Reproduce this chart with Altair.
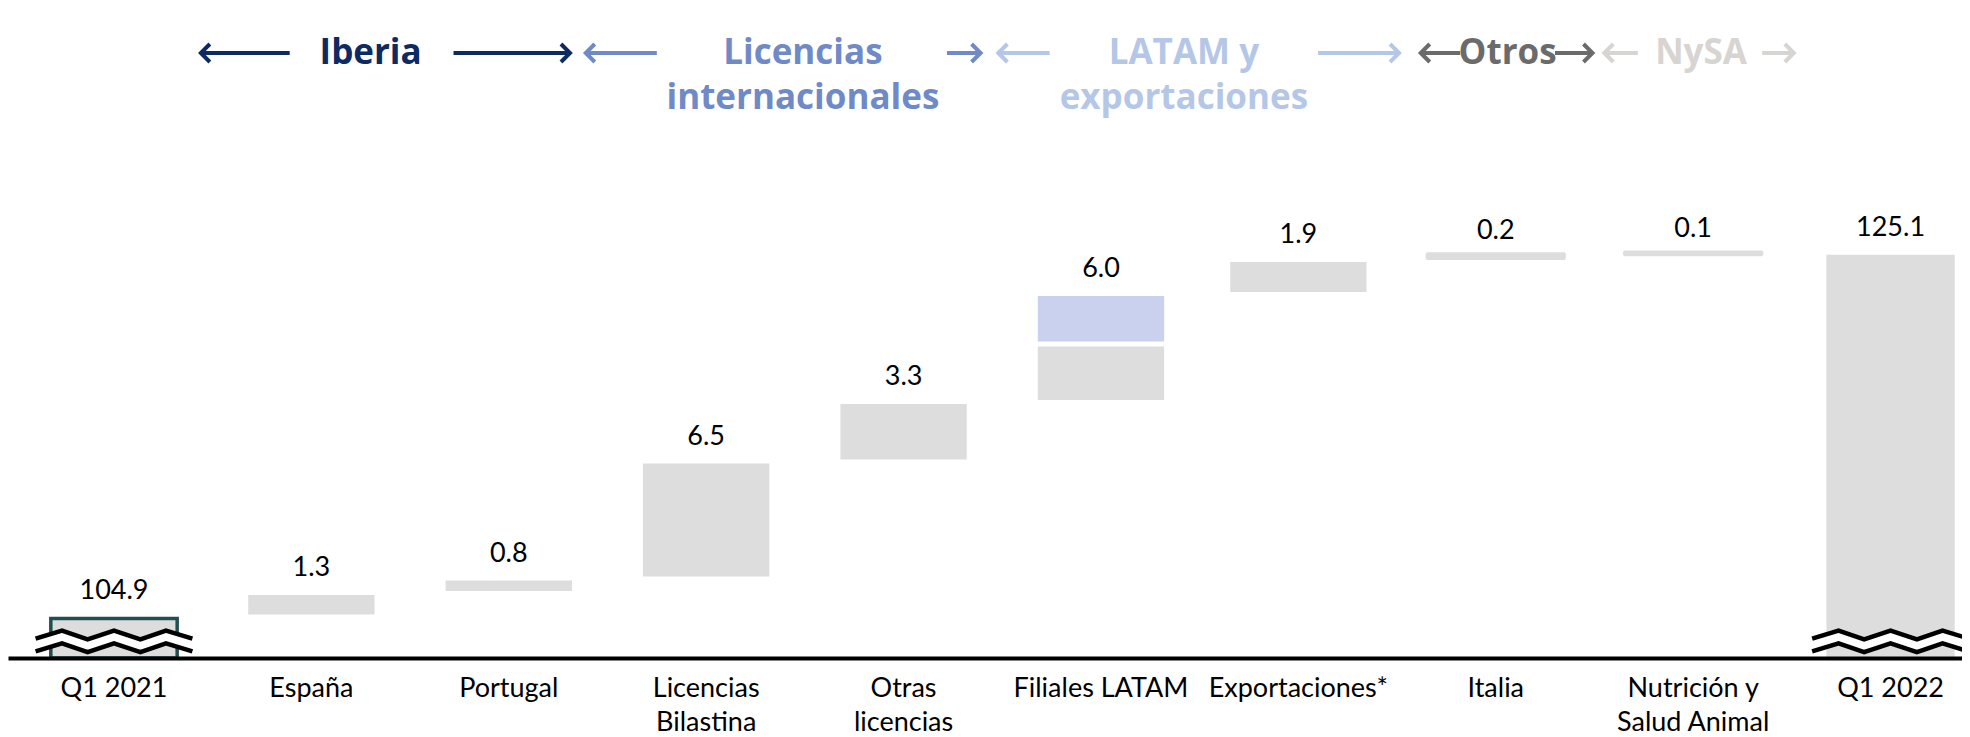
import altair as alt
import pandas as pd

# ---------------- data ----------------
categories = ["Q1 2021", "España", "Portugal", "Licencias\nBilastina", "Otras\nlicencias",
              "Filiales LATAM", "Exportaciones*", "Italia", "Nutrición y\nSalud Animal", "Q1 2022"]
values = [104.9, 1.3, 0.8, 6.5, 3.3, 6.0, 1.9, 0.2, 0.1, 125.1]
kinds = ["total", "delta", "delta", "delta", "delta", "delta", "delta", "delta", "delta", "total"]
filiales_split = [3.2, 2.8]          # grey part, highlighted (blue) part of Filiales LATAM
axis_floor = 102.7                   # value at the broken baseline
axis_ceiling = 138.8
break_value = 103.6                  # where the axis-break zigzag sits

group_labels = ["Iberia", "Licencias\ninternacionales", "LATAM y\nexportaciones", "Otros", "NySA"]
group_colors = ["#0d2a62", "#6f8ac7", "#b4c7e7", "#6b6b6b", "#d7d4d1"]
group_label_x = [1.30, 3.49, 5.42, 7.06, 8.04]
group_left_arrow = [(0.44, 0.89), (2.39, 2.75), (4.48, 4.74), (6.62, 6.82), (7.55, 7.72)]
group_right_arrow = [(1.72, 2.31), (4.22, 4.39), (6.10, 6.51), (7.30, 7.49), (8.35, 8.51)]

# style: half bar width per category (in category units)
bar_half = [0.32, 0.32, 0.32, 0.32, 0.32, 0.32, 0.345, 0.345, 0.345, 0.325]

# ---------------- tables ----------------
rows = []
labels = []
running = None
for i, (cat, v, k) in enumerate(zip(categories, values, kinds)):
    h = bar_half[i]
    if k == "total":
        rows.append(dict(x0=i - h, x1=i + h, base=axis_floor, top=v, cls="total",
                         stroke="#214f50" if i == 0 else "#dddddd", sw=3.5 if i == 0 else 0))
        running = v
        labels.append(dict(x=i, top=v, txt=f"{v:.1f}"))
    else:
        if cat == "Filiales LATAM":
            mid = running + filiales_split[0]
            rows.append(dict(x0=i - h, x1=i + h, base=running, top=mid, cls="big"))
            rows.append(dict(x0=i - h, x1=i + h, base=mid, top=mid + filiales_split[1], cls="blue"))
        else:
            rows.append(dict(x0=i - h, x1=i + h, base=running, top=running + v,
                             cls="small" if v < 0.5 else "big"))
        running = running + v
        labels.append(dict(x=i, top=running, txt=f"{v:.1f}"))

bars = pd.DataFrame(rows)
lab_df = pd.DataFrame(labels)
cat_df = pd.DataFrame(dict(x=list(range(len(categories))), label=categories))
hdr_df = pd.DataFrame(dict(x=group_label_x, label=group_labels, color=group_colors))
left_df = pd.DataFrame(dict(x=[a for a, b in group_left_arrow], x2=[b for a, b in group_left_arrow], color=group_colors))
right_df = pd.DataFrame(dict(x=[a for a, b in group_right_arrow], x2=[b for a, b in group_right_arrow], color=group_colors))
brk_df = pd.DataFrame(dict(x=[0, len(categories) - 1], y=[break_value, break_value]))

# ---------------- scales ----------------
xscale = alt.Scale(domain=[-0.537, 9.362], nice=False, zero=False)
yscale = alt.Scale(domain=[axis_floor, axis_ceiling], nice=False, zero=False)
xaxis = alt.Axis(title=None, labels=False, ticks=False, grid=False, domain=True,
                 domainColor="black", domainWidth=4, zindex=1)

def X(f):
    return alt.X(f, scale=xscale, axis=xaxis)

def Y(f):
    return alt.Y(f, scale=yscale, axis=None)

base = alt.Chart(bars)

big = base.transform_filter("datum.cls == 'big'").mark_rect(color="#dddddd", y2Offset=-4).encode(
    x=X("x0:Q"), x2="x1:Q", y=Y("top:Q"), y2="base:Q")
blue = base.transform_filter("datum.cls == 'blue'").mark_rect(color="#c9d1ee", y2Offset=-5).encode(
    x=X("x0:Q"), x2="x1:Q", y=Y("top:Q"), y2="base:Q")
small = base.transform_filter("datum.cls == 'small'").mark_rect(
    color="#dddddd", stroke="#dddddd", strokeWidth=4, strokeJoin="round", yOffset=-4, y2Offset=-4).encode(
    x=X("x0:Q"), x2="x1:Q", y=Y("top:Q"), y2="base:Q")
totals = base.transform_filter("datum.cls == 'total'").mark_rect(color="#dddddd").encode(
    x=X("x0:Q"), x2="x1:Q", y=Y("top:Q"), y2="base:Q",
    stroke=alt.Stroke("stroke:N", scale=None), strokeWidth=alt.StrokeWidth("sw:Q", scale=None))

# axis-break zigzags
zx = [-0.98, -0.65, -0.33, 0.0, 0.33, 0.65, 0.98]
zu = [-0.04, -0.14, -0.03, -0.14, -0.03, -0.14, -0.04]
zl = [v + 0.16 for v in zu]
upper = " ".join(f"{'M' if j == 0 else 'L'}{a},{b}" for j, (a, b) in enumerate(zip(zx, zu)))
lower = " ".join(f"{'M' if j == 0 else 'L'}{a},{b}" for j, (a, b) in enumerate(zip(zx, zl)))
lower_rev = " ".join(f"L{a},{b}" for a, b in zip(reversed(zx), reversed(zl)))
fill_path = upper + " " + lower_rev + " Z"
line_path = upper + " " + lower
BRK_SIZE = 160 * 160

brk_fill = alt.Chart(brk_df).mark_point(shape=fill_path, size=BRK_SIZE, filled=True, color="white",
                                        opacity=1, strokeWidth=0).encode(x=X("x:Q"), y=Y("y:Q"))
brk_line = alt.Chart(brk_df).mark_point(shape=line_path, size=BRK_SIZE, filled=False, color="black",
                                        opacity=1, strokeWidth=4.5).encode(x=X("x:Q"), y=Y("y:Q"))

# value labels
val_text = alt.Chart(lab_df).mark_text(font="Lato", fontSize=27, baseline="middle", dy=-27,
                                       color="black").encode(x=X("x:Q"), y=Y("top:Q"), text="txt:N")

# category labels
cat_text = alt.Chart(cat_df).mark_text(font="Lato", fontSize=27, baseline="alphabetic", align="center",
                                       lineBreak="\n", lineHeight=34, color="black").encode(
    x=X("x:Q"), y=alt.value(689), text="label:N")

# group headers
HY = 45
hdr_text = alt.Chart(hdr_df).mark_text(font="Open Sans", fontSize=35, fontWeight="bold", baseline="middle",
                                       align="center", lineBreak="\n", lineHeight=45).encode(
    x=X("x:Q"), y=alt.value(HY), text="label:N", color=alt.Color("color:N", scale=None))
left_rule = alt.Chart(left_df).mark_rule(strokeWidth=4).encode(
    x=X("x:Q"), x2="x2:Q", y=alt.value(HY), color=alt.Color("color:N", scale=None))
right_rule = alt.Chart(right_df).mark_rule(strokeWidth=4).encode(
    x=X("x:Q"), x2="x2:Q", y=alt.value(HY), color=alt.Color("color:N", scale=None))
left_head = alt.Chart(left_df).mark_point(shape="M1,-1 L0,0 L1,1", size=324, filled=False, opacity=1,
                                          strokeWidth=4).encode(
    x=X("x:Q"), y=alt.value(HY), color=alt.Color("color:N", scale=None))
right_head = alt.Chart(right_df).mark_point(shape="M-1,-1 L0,0 L-1,1", size=324, filled=False, opacity=1,
                                            strokeWidth=4).encode(
    x=X("x2:Q"), y=alt.value(HY), color=alt.Color("color:N", scale=None))

chart = alt.layer(
    totals, big, blue, small, brk_fill, brk_line, val_text, cat_text,
    left_rule, right_rule, left_head, right_head, hdr_text
).properties(
    width=1954, height=650,
    autosize=alt.AutoSizeParams(type="none"),
    padding={"left": 0, "top": 0, "right": 0, "bottom": 79},
    background="white",
).configure_view(stroke=None)

chart.save("out.html", embed_options={"renderer": "svg", "actions": False})
